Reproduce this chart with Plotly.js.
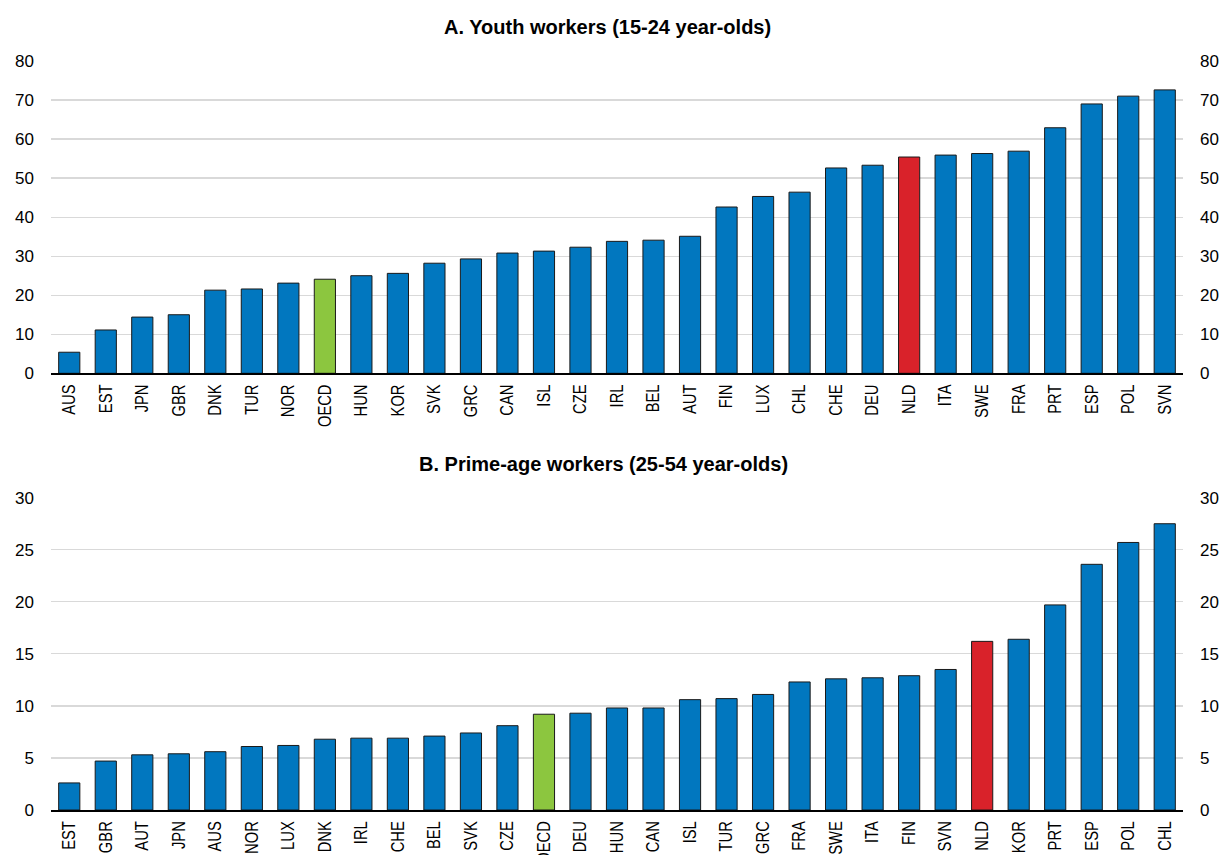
<!DOCTYPE html>
<html>
<head>
<meta charset="utf-8">
<script src="https://cdn.plot.ly/plotly-3.0.1.min.js"></script>
<style>html,body{margin:0;padding:0;background:#fff;}#chart{width:1224px;height:855px;}</style>
</head>
<body>
<div id="chart"></div>
<script>
// Panel A: Youth workers (15-24 year-olds)
const youthCountries = ["AUS","EST","JPN","GBR","DNK","TUR","NOR","OECD","HUN","KOR","SVK","GRC","CAN","ISL","CZE","IRL","BEL","AUT","FIN","LUX","CHL","CHE","DEU","NLD","ITA","SWE","FRA","PRT","ESP","POL","SVN"];
const youthValues = [5.4,11.1,14.4,15.0,21.3,21.6,23.1,24.1,25.0,25.6,28.2,29.3,30.8,31.3,32.3,33.8,34.1,35.1,42.6,45.3,46.4,52.6,53.3,55.4,55.9,56.3,56.9,62.9,69.0,71.0,72.6];
// Panel B: Prime-age workers (25-54 year-olds)
const primeCountries = ["EST","GBR","AUT","JPN","AUS","NOR","LUX","DNK","IRL","CHE","BEL","SVK","CZE","OECD","DEU","HUN","CAN","ISL","TUR","GRC","FRA","SWE","ITA","FIN","SVN","NLD","KOR","PRT","ESP","POL","CHL"];
const primeValues = [2.6,4.7,5.3,5.4,5.6,6.1,6.2,6.8,6.9,6.9,7.1,7.4,8.1,9.2,9.3,9.8,9.8,10.6,10.7,11.1,12.3,12.6,12.7,12.9,13.5,16.2,16.4,19.7,23.6,25.7,27.5];
const panelTitles = ["A. Youth workers (15-24 year-olds)","B. Prime-age workers (25-54 year-olds)"];
const yTicksA = [0,10,20,30,40,50,60,70,80];
const yTicksB = [0,5,10,15,20,25,30];

const BLUE = "#0177BF", GREEN = "#8CC63F", RED = "#D9222A";
function colorsFor(cats){ return cats.map(c => c === "OECD" ? GREEN : (c === "NLD" ? RED : BLUE)); }

const FONT = "Liberation Sans, Arial, sans-serif";

const traces = [
  {type:"bar", x:youthCountries, y:youthValues, xaxis:"x", yaxis:"y",
   marker:{color:colorsFor(youthCountries), line:{color:"#1a1a1a", width:1}}, hoverinfo:"x+y"},
  {type:"scatter", mode:"markers", x:[youthCountries[0]], y:[0], xaxis:"x", yaxis:"y2",
   marker:{opacity:0}, hoverinfo:"skip", showlegend:false},
  {type:"bar", x:primeCountries, y:primeValues, xaxis:"x2", yaxis:"y3",
   marker:{color:colorsFor(primeCountries), line:{color:"#1a1a1a", width:1}}, hoverinfo:"x+y"},
  {type:"scatter", mode:"markers", x:[primeCountries[0]], y:[0], xaxis:"x2", yaxis:"y4",
   marker:{opacity:0}, hoverinfo:"skip", showlegend:false}
];

const xDom = [51/1224, 1183/1224];
const domA = [1-373.3/855, 1-61/855];
const domB = [1-810/855, 1-497.7/855];

function xAxis(anchor, n){
  return {domain:xDom, anchor:anchor, type:"category", range:[-0.5, n-0.5], autorange:false,
    showgrid:false, zeroline:false,
    showline:true, linecolor:"#000", linewidth:2, ticks:"", tickangle:-90, ticklabelstandoff:2,
    tickfont:{family:FONT, size:18, color:"#000"}, fixedrange:true};
}
function yAxis(dom, range, ticks, side, anchor, overlay){
  const a = {domain:dom, range:range, autorange:false, tickvals:ticks, side:side, anchor:anchor,
    showgrid: !overlay, gridcolor:"#D9D9D9", gridwidth:1.3, zeroline:false, showline:false,
    ticks:"", ticklabelstandoff:16, tickfont:{family:FONT, size:17, color:"#000"}, fixedrange:true};
  if (overlay) a.overlaying = overlay;
  return a;
}

const layout = {
  width:1224, height:855, margin:{l:0,r:0,t:0,b:0},
  paper_bgcolor:"#fff", plot_bgcolor:"rgba(0,0,0,0)",
  showlegend:false, bargap:0.42,
  font:{family:FONT, color:"#000"},
  xaxis: xAxis("y", youthCountries.length),
  xaxis2: xAxis("y3", primeCountries.length),
  yaxis: yAxis(domA, [0,80], yTicksA, "left", "x"),
  yaxis2: yAxis(domA, [0,80], yTicksA, "right", "x", "y"),
  yaxis3: yAxis(domB, [0,30], yTicksB, "left", "x2"),
  yaxis4: yAxis(domB, [0,30], yTicksB, "right", "x2", "y3"),
  annotations: [
    {text:"<b>"+panelTitles[0]+"</b>", xref:"paper", yref:"paper", x:607/1224, y:1-27/855,
     xanchor:"center", yanchor:"middle", showarrow:false, font:{family:FONT, size:20, color:"#000"}},
    {text:"<b>"+panelTitles[1]+"</b>", xref:"paper", yref:"paper", x:603/1224, y:1-464/855,
     xanchor:"center", yanchor:"middle", showarrow:false, font:{family:FONT, size:20, color:"#000"}}
  ]
};

// Condense the rotated category labels along their reading direction (narrow-font look)
function condenseLabels(){
  document.querySelectorAll("g.xtick text, g.x2tick text").forEach(t => {
    if (t.dataset.condensed) return;
    const x = parseFloat(t.getAttribute("x")) || 0;
    const y = parseFloat(t.getAttribute("y")) || 0;
    const tr = t.getAttribute("transform") || "";
    t.setAttribute("transform", tr + " translate(" + x + "," + y + ") scale(0.82,1) translate(" + (-x) + "," + (-y) + ")");
    t.dataset.condensed = "1";
  });
}

Plotly.newPlot("chart", traces, layout, {displayModeBar:false, staticPlot:true}).then(condenseLabels);
</script>
</body>
</html>
